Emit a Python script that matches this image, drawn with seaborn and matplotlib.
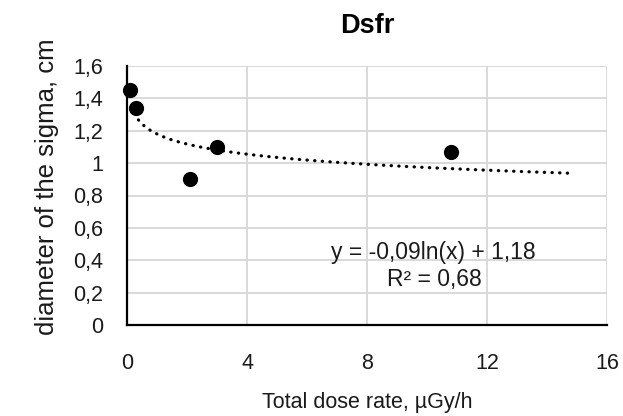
import numpy as np
import matplotlib
matplotlib.use("Agg")
import matplotlib.pyplot as plt
import seaborn as sns

# data
dose_rate = [0.1, 0.3, 2.1, 3.0, 10.8]
diameter = [1.45, 1.34, 0.90, 1.10, 1.07]
trend_a = -0.09
trend_b = 1.18
trend_range = [0.15, 14.7]
x_ticks = [0, 4, 8, 12, 16]
x_ticklabels = ["0", "4", "8", "12", "16"]
y_ticks = [0, 0.2, 0.4, 0.6, 0.8, 1.0, 1.2, 1.4, 1.6]
y_ticklabels = ["0", "0,2", "0,4", "0,6", "0,8", "1", "1,2", "1,4", "1,6"]
title = "Dsfr"
xlabel = "Total dose rate, µGy/h"
ylabel = "diameter of the sigma, cm"
eq_text = "y = -0,09ln(x) + 1,18"
r2_text = "R² = 0,68"

sns.set_theme(style="whitegrid")
plt.rcParams["font.family"] = ["Liberation Sans", "DejaVu Sans"]

txt = "#1a1a1a"
fig = plt.figure(figsize=(6.23, 4.16), dpi=100)
ax = fig.add_axes([127/623, 1-325/416, 480/623, 259/416])
ax.set_facecolor("white")

tx = np.geomspace(trend_range[0], trend_range[1], 200)
ty = trend_a * np.log(tx) + trend_b
sns.lineplot(x=tx, y=ty, ax=ax, color="black", linewidth=2.3,
             linestyle=(0, (0.1, 2.3)), dash_capstyle="round")
sns.scatterplot(x=dose_rate, y=diameter, ax=ax, color="black", s=120,
                edgecolor="black", linewidth=0, zorder=5, clip_on=False)

ax.set_xlim(0, 16)
ax.set_ylim(0, 1.6)
ax.set_xticks(x_ticks)
ax.set_xticklabels(x_ticklabels)
ax.set_yticks(y_ticks)
ax.set_yticklabels(y_ticklabels)
ax.tick_params(axis="both", labelsize=15.5, colors=txt, length=0)
ax.tick_params(axis="x", pad=20)
ax.tick_params(axis="y", pad=17)
ax.grid(True, color="#d9d9d9", linewidth=1.4)
for s in ["top", "right"]:
    ax.spines[s].set_visible(False)
for s in ["left", "bottom"]:
    ax.spines[s].set_visible(True)
    ax.spines[s].set_color("black")
    ax.spines[s].set_linewidth(1.6)

ax.set_title(title, fontsize=19.5, fontweight="bold", pad=24, color="black")
ax.set_xlabel(xlabel, fontsize=15.5, color=txt, va="baseline")
ax.set_ylabel(ylabel, fontsize=18.5, color=txt, va="baseline")
ax.xaxis.set_label_coords(0.5, (325-408)/259)
ax.yaxis.set_label_coords((54-127)/480, (325-186.5)/259)

ax.text(10.2, 0.45, eq_text, ha="center", va="center", fontsize=16.5, color=txt)
ax.text(10.23, 0.284, r2_text, ha="center", va="center", fontsize=16.5, color=txt)

fig.savefig("out.png", dpi=100, facecolor="white")
